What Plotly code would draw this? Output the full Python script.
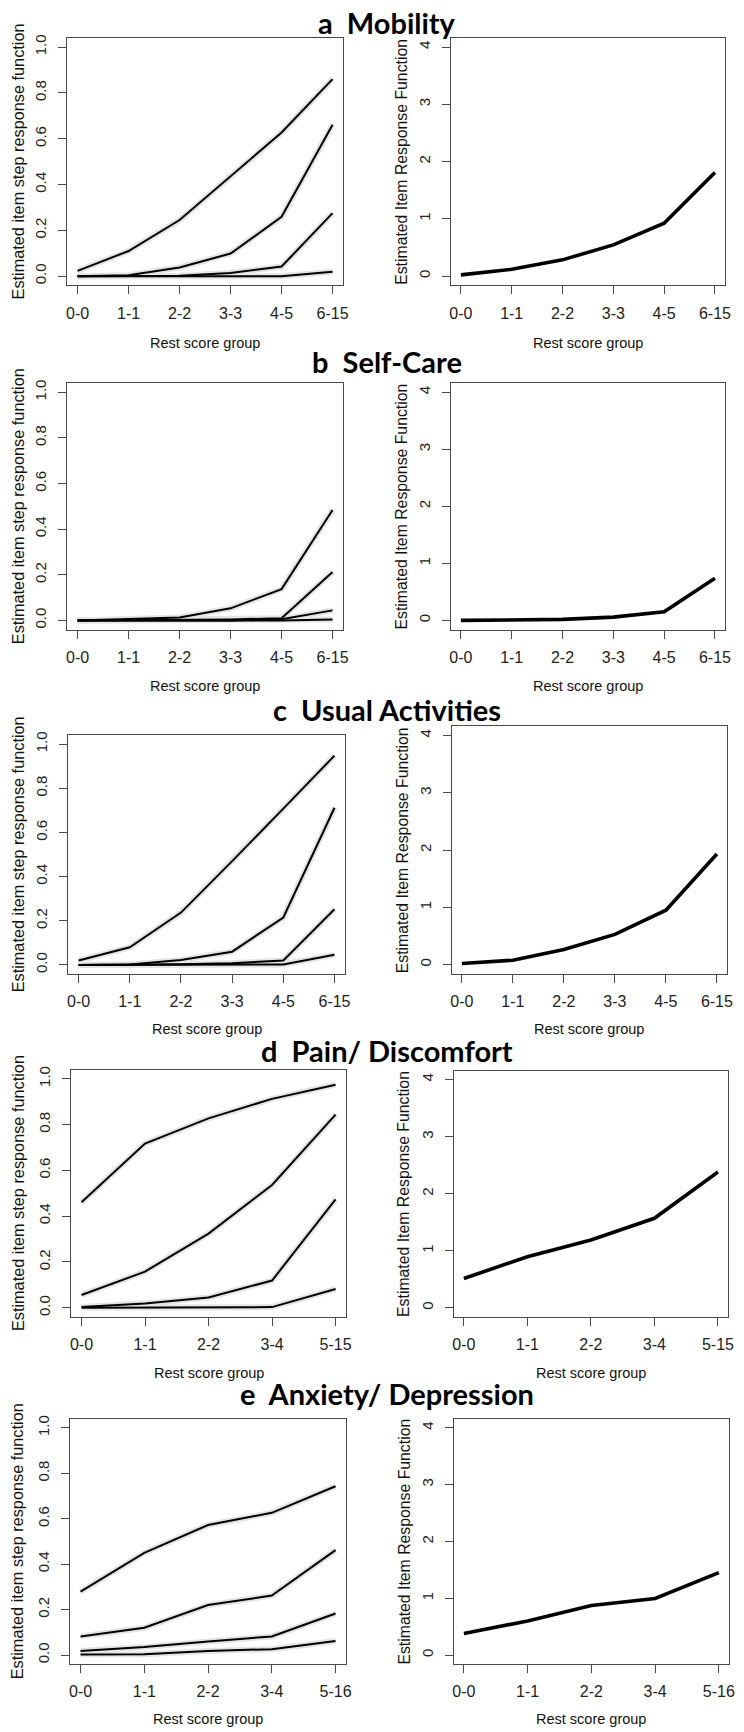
import plotly.graph_objects as go

W, H = 744, 1732

# ---------------- data ----------------
titles = ["a  Mobility", "b  Self-Care", "c  Usual Activities", "d  Pain/ Discomfort", "e  Anxiety/ Depression"]

groups_a = ["0-0", "1-1", "2-2", "3-3", "4-5", "6-15"]
groups_b = ["0-0", "1-1", "2-2", "3-3", "4-5", "6-15"]
groups_c = ["0-0", "1-1", "2-2", "3-3", "4-5", "6-15"]
groups_d = ["0-0", "1-1", "2-2", "3-4", "5-15"]
groups_e = ["0-0", "1-1", "2-2", "3-4", "5-16"]

# item step response functions (4 steps per item)
steps_a = [
    [0.023, 0.110, 0.245, 0.434, 0.627, 0.860],
    [0.000, 0.004, 0.038, 0.099, 0.259, 0.661],
    [0.000, 0.000, 0.002, 0.014, 0.042, 0.275],
    [0.000, 0.000, 0.000, 0.000, 0.000, 0.019],
]
steps_b = [
    [0.000, 0.005, 0.013, 0.053, 0.137, 0.484],
    [0.000, 0.002, 0.004, 0.004, 0.010, 0.212],
    [0.000, 0.000, 0.000, 0.000, 0.005, 0.044],
    [0.000, 0.000, 0.000, 0.000, 0.000, 0.004],
]
steps_c = [
    [0.020, 0.080, 0.237, 0.470, 0.708, 0.948],
    [0.000, 0.002, 0.022, 0.060, 0.215, 0.712],
    [0.000, 0.000, 0.003, 0.008, 0.020, 0.252],
    [0.000, 0.000, 0.000, 0.002, 0.002, 0.046],
]
steps_d = [
    [0.461, 0.717, 0.827, 0.912, 0.974],
    [0.056, 0.158, 0.324, 0.536, 0.843],
    [0.004, 0.019, 0.045, 0.119, 0.473],
    [0.000, 0.000, 0.002, 0.003, 0.082],
]
steps_e = [
    [0.279, 0.450, 0.572, 0.626, 0.743],
    [0.082, 0.120, 0.220, 0.262, 0.462],
    [0.018, 0.035, 0.060, 0.082, 0.183],
    [0.003, 0.004, 0.018, 0.026, 0.062],
]

# item response functions
irf_a = [0.023, 0.120, 0.285, 0.547, 0.926, 1.810]
irf_b = [0.000, 0.007, 0.018, 0.058, 0.152, 0.740]
irf_c = [0.020, 0.076, 0.263, 0.527, 0.949, 1.930]
irf_d = [0.515, 0.896, 1.190, 1.570, 2.380]
irf_e = [0.380, 0.600, 0.874, 0.997, 1.450]

left_yticks = [0.0, 0.2, 0.4, 0.6, 0.8, 1.0]
left_yticktext = ["0.0", "0.2", "0.4", "0.6", "0.8", "1.0"]
right_yticks = [0, 1, 2, 3, 4]
right_yticktext = ["0", "1", "2", "3", "4"]

x_title = "Rest score group"
left_y_title = "Estimated item step response function"
right_y_title = "Estimated Item Response Function"

# ---------------- layout geometry (pixels) ----------------
left_boxes = [(67, 345, 34, 282), (67, 345, 380, 627), (68, 347, 733, 972), (71, 348, 1068, 1316), (70, 348, 1418, 1664)]
right_boxes = [(454, 731, 34, 282), (454, 731, 380, 627), (455, 733, 724, 972), (457, 734, 1069, 1316), (457, 735, 1418, 1664)]
title_y = [19, 358, 707, 1049, 1393]
xtitle_y = [340, 684, 1027, 1372, 1719]

groups = [groups_a, groups_b, groups_c, groups_d, groups_e]
steps = [steps_a, steps_b, steps_c, steps_d, steps_e]
irfs = [irf_a, irf_b, irf_c, irf_d, irf_e]

def px(x):
    return x / W

def py(y):
    return 1 - y / H

fig = go.Figure()
layout = dict(
    width=W, height=H, margin=dict(l=0, r=0, t=0, b=0, pad=0),
    paper_bgcolor="white", plot_bgcolor="white", showlegend=False,
)
annotations = []
AXCOL = "#4a4a4a"
FONT = "Liberation Sans, Arial, sans-serif"
tickfont = dict(family=FONT, size=16, color="#222")
ytickfont = dict(family=FONT, size=15, color="#222")

ax_i = 0
for p in range(5):
    cats = groups[p]
    n = len(cats)
    pad = 0.04 * (n - 1)
    xr = [-pad, (n - 1) + pad]
    for side in range(2):
        ax_i += 1
        xa = "xaxis" if ax_i == 1 else f"xaxis{ax_i}"
        ya = "yaxis" if ax_i == 1 else f"yaxis{ax_i}"
        xref = "x" if ax_i == 1 else f"x{ax_i}"
        yref = "y" if ax_i == 1 else f"y{ax_i}"
        box = left_boxes[p] if side == 0 else right_boxes[p]
        x0, x1, y0, y1 = box
        if side == 0:
            for s in steps[p]:
                fig.add_trace(go.Scatter(x=cats, y=s, mode="lines", xaxis=xref, yaxis=yref,
                                         line=dict(color="#e4e4e4", width=6), hoverinfo="skip"))
            for s in steps[p]:
                fig.add_trace(go.Scatter(x=cats, y=s, mode="lines", xaxis=xref, yaxis=yref,
                                         line=dict(color="black", width=2)))
            yr = [-0.04, 1.04]
            tv, tt = left_yticks, left_yticktext
            ytitle = left_y_title
            ytx = 17
            ysize = 16.3
        else:
            fig.add_trace(go.Scatter(x=cats, y=irfs[p], mode="lines", xaxis=xref, yaxis=yref,
                                     line=dict(color="black", width=3.6)))
            yr = [-0.16, 4.16]
            tv, tt = right_yticks, right_yticktext
            ytitle = right_y_title
            ytx = x0 - 50
            ysize = 15.8
        layout[xa] = dict(
            domain=[px(x0), px(x1)], anchor=yref, type="category",
            categoryorder="array", categoryarray=cats, range=xr,
            showline=True, mirror=True, linecolor=AXCOL, linewidth=1,
            ticks="outside", ticklen=8, tickcolor=AXCOL, tickwidth=1,
            showgrid=False, zeroline=False, tickfont=tickfont,
            ticklabelstandoff=5,
        )
        layout[ya] = dict(
            domain=[py(y1), py(y0)], anchor=xref, range=yr,
            tickvals=tv, ticktext=tt, tickangle=-90,
            showline=True, mirror=True, linecolor=AXCOL, linewidth=1,
            ticks="outside", ticklen=8, tickcolor=AXCOL, tickwidth=1,
            showgrid=False, zeroline=False, tickfont=ytickfont,
            ticklabelstandoff=6,
        )
        annotations.append(dict(
            text=ytitle, x=px(ytx), y=py((y0 + y1) / 2), xref="paper", yref="paper",
            textangle=-90, showarrow=False, xanchor="center", yanchor="middle",
            font=dict(family=FONT, size=ysize, color="#111"),
        ))
        annotations.append(dict(
            text=x_title, x=px((x0 + x1) / 2), y=py(xtitle_y[p]), xref="paper", yref="paper",
            showarrow=False, xanchor="center", yanchor="middle",
            font=dict(family=FONT, size=14.5, color="#111"),
        ))
    annotations.append(dict(
        text="<b>" + titles[p] + "</b>", x=px(390), y=py(title_y[p]), xref="paper", yref="paper",
        showarrow=False, xanchor="center", yanchor="middle",
        font=dict(family="Lato, Open Sans, sans-serif", size=29, color="black"),
    ))

layout["annotations"] = annotations
fig.update_layout(**layout)
fig.write_html(
    "out.html",
    config={"displayModeBar": False},
    post_script="document.body.style.margin='0';document.body.style.overflow='hidden';",
)
